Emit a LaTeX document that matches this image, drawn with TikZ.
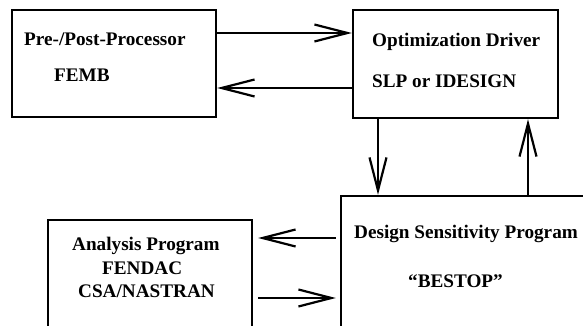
\documentclass[tikz,border=0pt]{standalone}
\usepackage{fontspec}
\setmainfont{Liberation Serif}
\usetikzlibrary{arrows.meta}
\tikzset{
  boxnode/.style={draw, line width=2.3pt, inner sep=0pt, rectangle},
  lbl/.style={anchor=base west, inner sep=0pt, font=\bfseries\fontsize{19.2}{23}\selectfont},
  arr/.style={line width=2.2pt, -{Straight Barb[length=33pt,width=17pt,line width=2.2pt]}}
}
\begin{document}
\begin{tikzpicture}[x=1pt,y=-1pt]
\useasboundingbox (0,0) rectangle (583,326);
\clip (0,0) rectangle (583,326);
% boxes
\node[boxnode, minimum width=204pt, minimum height=107pt] (pre) at (114,63.5) {};
\node[boxnode, minimum width=205pt, minimum height=108pt] (opt) at (455.5,64) {};
\node[boxnode, minimum width=260pt, minimum height=160pt] (dsp) at (471,276) {};
\node[boxnode, minimum width=204pt, minimum height=130pt] (ana) at (150,285) {};
% labels
\node[lbl] (t1) at (24,46) {Pre-/Post-Processor};
\node[lbl] (t2) at (54,82) {FEMB};
\node[lbl] (t3) at (372,47) {Optimization Driver};
\node[lbl] (t4) at (372,88) {SLP or IDESIGN};
\node[lbl] (t5) at (354,238) {Design Sensitivity Program};
\node[lbl] (t6) at (408,287) {“BESTOP”};
\node[lbl] (t7) at (72,250) {Analysis Program};
\node[lbl] (t8) at (102,274) {FENDAC};
\node[lbl] (t9) at (78,297) {CSA/NASTRAN};
% connectors
\draw[arr] (pre.east |- 0,33) -- (opt.west |- 0,33);
\draw[arr] (opt.west |- 0,88) -- (pre.east |- 0,88);
\draw[arr] (opt.south -| 378,0) -- (dsp.north -| 378,0);
\draw[arr] (dsp.north -| 528,0) -- (opt.south -| 528,0);
\draw[arr, shorten <=4pt, shorten >=5pt] (dsp.west |- 0,238) -- (ana.east |- 0,238);
\draw[arr, shorten <=5pt, shorten >=4pt] (ana.east |- 0,298) -- (dsp.west |- 0,298);
\end{tikzpicture}
\end{document}
